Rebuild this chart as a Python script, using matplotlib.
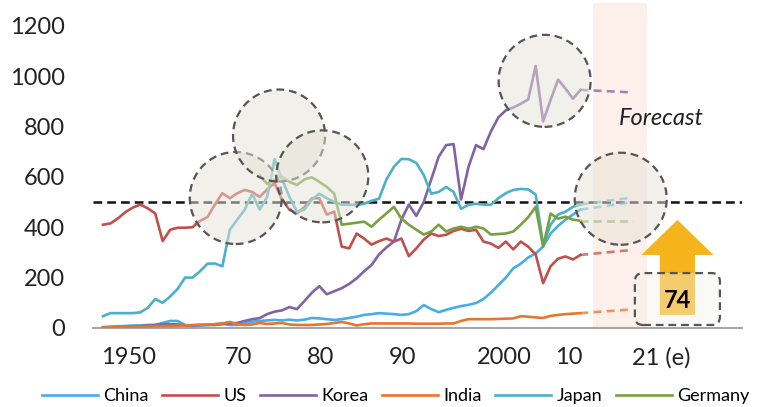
import matplotlib
matplotlib.use('Agg')
import matplotlib.pyplot as plt
from matplotlib.patches import Ellipse, FancyBboxPatch, Polygon

plt.rcParams['font.family'] = ['Lato', 'DejaVu Sans']

# steel per capita (kg)
years = list(range(1950, 2015))
china = [3, 5, 7, 8, 10, 10, 12, 12, 20, 28,
         28, 12, 8, 10, 12, 15, 18, 12, 12, 18,
         25, 28, 30, 32, 30, 33, 30, 33, 40, 38,
         35, 32, 35, 40, 45, 52, 55, 59, 57, 55,
         52, 55, 67, 91, 75, 63, 72, 80, 87, 92,
         99, 115, 140, 170, 200, 237, 255, 280, 296, 323,
         375, 405, 430, 450, 470]
us = [410, 415, 435, 460, 478, 490, 475, 455, 345, 390,
      398, 398, 400, 425, 440, 490, 535, 515, 535, 548,
      540, 520, 550, 575, 510, 470, 455, 480, 515, 515,
      450, 462, 323, 316, 375, 355, 331, 345, 355, 343,
      355, 285, 316, 351, 375, 365, 370, 385, 394, 385,
      390, 343, 335, 318, 343, 312, 343, 323, 292, 178,
      245, 275, 284, 272, 290]
korea = [3, 3, 4, 5, 6, 8, 10, 12, 15, 15,
         14, 10, 10, 12, 12, 12, 15, 18, 20, 28,
         35, 39, 55, 65, 70, 83, 75, 107, 140, 166,
         134, 146, 158, 175, 197, 225, 250, 292, 320, 343,
         430, 490, 445, 500, 590, 680, 726, 730, 510, 640,
         726, 710, 780, 836, 864, 875, 890, 907, 1040, 820,
         905, 986, 950, 910, 945]
india = [3, 4, 4, 5, 5, 5, 6, 7, 8, 8,
         9, 10, 12, 13, 14, 15, 18, 24, 15, 12,
         14, 20, 16, 18, 20, 14, 12, 12, 12, 14,
         16, 20, 24, 18, 10, 15, 18, 18, 18, 18,
         18, 18, 17, 17, 17, 17, 18, 18, 28, 35,
         35, 35, 35, 36, 37, 38, 47, 45, 42, 40,
         48, 52, 55, 57, 59]
japan = [47, 59, 59, 59, 59, 62, 80, 115, 100, 125,
         155, 200, 200, 225, 255, 256, 245, 390, 430, 470,
         533, 470, 520, 670, 590, 520, 462, 470, 510, 533,
         515, 501, 490, 489, 489, 493, 505, 513, 590, 640,
         671, 670, 655, 607, 533, 540, 560, 540, 473, 489,
         493, 490, 489, 515, 535, 548, 552, 550, 530, 331,
         410, 450, 462, 481, 490]
years_de = list(range(1971, 2015))
germany = [607, 572, 588, 600, 580, 568, 590, 598, 580,
           560, 533, 410, 414, 418, 422, 402, 430, 455, 481,
           434, 410, 390, 371, 383, 410, 383, 395, 402, 394,
           402, 395, 371, 373, 375, 383, 410, 440, 481, 323,
           454, 434, 442, 430, 426]

# forecast 2014 -> 2021(e)
fc_years = [2014, 2021]
fc_china = [470, 500]
fc_us = [290, 310]
fc_korea = [945, 935]
fc_india = [59, 74]
fc_japan = [490, 518]
fc_germany = [426, 426]

names = ['China', 'US', 'Korea', 'India', 'Japan', 'Germany']
colors = ['#45AEE6', '#C0504D', '#8064A2', '#E8762A', '#4BB0C8', '#78A040']
hist = [(years, china), (years, us), (years, korea), (years, india), (years, japan), (years_de, germany)]
fcst = [fc_china, fc_us, fc_korea, fc_india, fc_japan, fc_germany]

fig = plt.figure(figsize=(7.58, 4.07), dpi=100)
ax = fig.add_axes([93/758, 79/407, 649/758, 325/407])
px_x = 7.46     # px per year
px_y = 0.2519   # px per kg
ax.set_xlim(1948.66, 2035.66)
ax.set_ylim(0, 1290)

# forecast band
ax.axvspan(2015.7, 2022.9, color='#FDF0EA', zorder=0, lw=0)
ax.text(2024.9, 830, 'Forecast', fontsize=17, style='italic', ha='center', va='center',
        color='#222222', zorder=6)

handles = []
for (xs, ys), fc, c, n in zip(hist, fcst, colors, names):
    h, = ax.plot(xs, ys, color=c, lw=1.9, zorder=3, label=n)
    ax.plot(fc_years, fc, color=c, lw=1.9, ls=(0, (3, 2)), alpha=0.75, zorder=3)
    handles.append(h)

ax.axhline(500, color='#111111', lw=1.8, ls=(0, (3.5, 2)), zorder=2)

# dashed circles
r_w, r_h = 92 / px_x, 92 / px_y
for cx, cy in [(1967.8, 516), (1973.6, 764), (1979.4, 602), (2009.2, 981), (2019.4, 513)]:
    ax.add_patch(Ellipse((cx, cy), r_w, r_h, facecolor=(0.90, 0.89, 0.84, 0.5),
                         edgecolor='#555555', lw=1.6, ls=(0, (3.5, 2.2)), zorder=4))

# arrow + box with 74
cx, sw, hw = 2027.0, 2.35, 4.83
ax.add_patch(Polygon([(cx - sw, 52), (cx + sw, 52), (cx + sw, 290), (cx + hw, 290),
                      (cx, 429), (cx - hw, 290), (cx - sw, 290)],
                     closed=True, facecolor='#F6B41C', edgecolor='none', zorder=5))
ax.add_patch(FancyBboxPatch((2021.3, 12), 11.4, 206, boxstyle='round,pad=0,rounding_size=1.1',
                            mutation_aspect=px_x / px_y, facecolor=(0.95, 0.94, 0.91, 0.4),
                            edgecolor='#555555', lw=1.6, ls=(0, (3.5, 2.2)), zorder=6))
ax.text(cx, 111, '74', fontsize=17, fontweight='bold', ha='center', va='center', zorder=7)

for s in ['left', 'top', 'right']:
    ax.spines[s].set_visible(False)
ax.spines['bottom'].set_color('#A6A6A6')
ax.spines['bottom'].set_linewidth(1.5)

ax.set_yticks(range(0, 1201, 200))
ax.set_xticks([1953.4, 1968.1, 1979.2, 1990.2, 2003.8, 2012.5, 2024.9])
ax.set_xticklabels(['1950', '70', '80', '90', '2000', '10', '21 (e)'])
ax.tick_params(axis='y', length=0, pad=20, labelsize=17, labelcolor='#222222')
ax.tick_params(axis='x', length=0, pad=14, labelsize=17, labelcolor='#222222')

fig.legend(handles, names, loc='center', bbox_to_anchor=(0.522, 0.027), ncol=6, frameon=False,
           fontsize=13, handlelength=3.1, handletextpad=0.3, columnspacing=0.75,
           borderpad=0.2)

fig.savefig('out.png', dpi=100)
